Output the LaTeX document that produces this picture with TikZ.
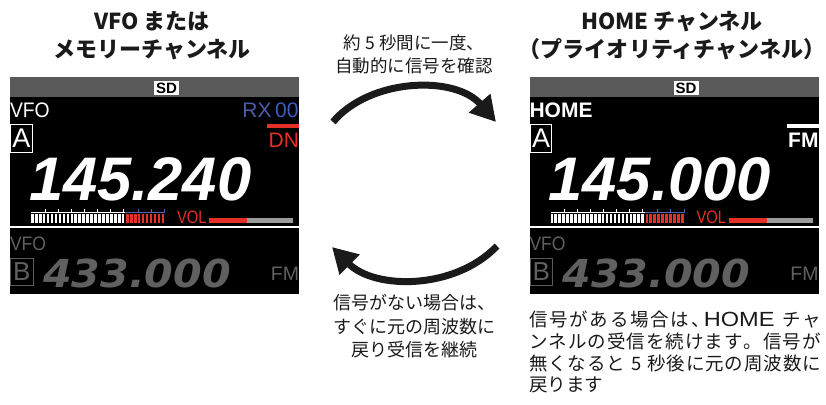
\documentclass[tikz,border=0pt]{standalone}
\usepackage{fontspec}
\setmainfont{Liberation Sans}
\newfontfamily\jp{Noto Sans CJK JP}
\newfontfamily\dvs{DejaVu Sans}
\usetikzlibrary{arrows.meta}
\definecolor{scrgrey}{HTML}{595959}
\definecolor{dimgrey}{HTML}{606060}
\definecolor{lcdred}{HTML}{E53027}
\definecolor{rxblue}{HTML}{4B5CA8}
\definecolor{zeroblue}{HTML}{3D5CC0}
\definecolor{volgrey}{HTML}{9A9A9A}
\definecolor{rulerblue}{HTML}{5065B5}
\definecolor{inkblack}{HTML}{1A1A1A}
\def\spreadchars#1{\spreadA#1\relax}
\def\spreadA#1{\ifx#1\relax\else#1\hskip 0pt plus 1fil\expandafter\spreadA\fi}
\newcommand\jline[1]{\hbox to 292pt{\spreadchars{#1}\unskip}}
\newcommand\HOMEw{{\rmfamily\fontsize{20.5}{20}\selectfont\scalebox{1.15}[1]{HOME}}}
\tikzset{
  txt/.style={inner sep=0pt, outer sep=0pt},
  bigarrow/.style={line width=7pt, inkblack, -{Triangle[length=25pt,width=27pt]}},
  jtext/.style={txt, text=inkblack, font=\jp\fontsize{18}{23.5}\selectfont, align=center},
  title/.style={txt, text=inkblack, font=\jp\bfseries\fontsize{22}{28}\selectfont, align=center},
}
\newcommand\drawscreen[4]{%
  % #1 top label, #2 label font, #3 freq, #4 right-hand items
  \fill[scrgrey] (0,77) rectangle (289,97);
  \fill[black] (0,97) rectangle (289,294);
  \fill[white] (144,81) rectangle (169,95);
  \node[txt, font=\bfseries\fontsize{15}{15}\selectfont] (sd) at (156.5,88.5) {SD};
  \node[txt, anchor=base west, text=white, font=#2] (lab) at (0,117) {#1};
  \draw[white, line width=0.8pt] (0.5,124.5) rectangle (22,152);
  \node[txt, text=white, font=\fontsize{27}{27}\selectfont] (chA) at (11.5,138.5) {A};
  #4
  \node[txt, anchor=base west, text depth=0pt, text=white, font=\bfseries\itshape\fontsize{61.5}{61.5}\selectfont] (freq) at (19,200) {#3};
  % ruler
  \draw[white, line width=0.8pt] (21,212) -- (115,212);
  \foreach \x in {35,48,61,74,87,100,113} \draw[white, line width=0.8pt] (\x,212) -- (\x,208.5);
  \draw[rulerblue, line width=0.8pt] (115,212) -- (155,212);
  \foreach \x in {128,141,154.5} \draw[rulerblue, line width=0.8pt] (\x,212) -- (\x,208.5);
  \foreach \i in {0,...,23} \fill[white] ({21+\i*3.95},214) rectangle ++(2.6,9);
  \foreach \i in {0,...,9} \fill[lcdred] ({116+\i*3.95},214) rectangle ++(2.6,9);
  \node[txt, anchor=base west, text=lcdred, font=\fontsize{18}{18}\selectfont] (vol) at (167,223) {\scalebox{0.82}[1]{VOL}};
  \fill[lcdred] (199,218) rectangle (237,223);
  \fill[volgrey] (237,218) rectangle (283,223);
  \draw[white, line width=1.5pt] (0,227) -- (289,227);
  \node[txt, anchor=base west, text=dimgrey, font=\fontsize{19.5}{19.5}\selectfont] (vfob) at (0,250) {\scalebox{0.9}[1]{VFO}};
  \draw[scrgrey, line width=1pt] (0.5,258) rectangle (23,285);
  \node[txt, text=dimgrey, font=\fontsize{26}{26}\selectfont] (chB) at (11.8,271.5) {B};
  \node[txt, anchor=base west, text depth=0pt, text=dimgrey, font=\dvs\bfseries\itshape\fontsize{38.5}{38.5}\selectfont] (freqb) at (33,287) {\scalebox{1.07}[1]{433.000}};
  \node[txt, anchor=base east, text=dimgrey, font=\fontsize{19.5}{19.5}\selectfont] (fmb) at (289,280) {FM};
}
\begin{document}
\begin{tikzpicture}[x=1pt,y=-1pt]
\useasboundingbox (0,0) rectangle (826,404);
% titles
\node[title] (ltitle) at (152,36) {VFO または\\メモリーチャンネル};
\node[title] (rtitle) at (672,36) {HOME チャンネル\\（プライオリティチャンネル）};
% left screen
\begin{scope}[shift={(10,0)}, name prefix=L-]
\drawscreen{\scalebox{0.92}[1]{VFO}}{\fontsize{21}{21}\selectfont}{145.240}{%
  \node[txt, anchor=base east, font=\fontsize{21}{21}\selectfont] (rx) at (288.5,117) {\textcolor{rxblue}{RX}\,\textcolor{zeroblue}{00}};
  \fill[lcdred] (257,124) rectangle (289,127.5);
  \node[txt, anchor=base east, text=lcdred, font=\fontsize{21}{21}\selectfont] (dn) at (289,147) {DN};
}
\end{scope}
% right screen
\begin{scope}[shift={(529.5,0)}, name prefix=R-]
\drawscreen{HOME}{\bfseries\fontsize{21}{21}\selectfont}{145.000}{%
  \fill[white] (257,124) rectangle (289,127.5);
  \node[txt, anchor=base east, text=white, font=\bfseries\fontsize{21}{21}\selectfont] (fm) at (289,147) {FM};
}
\end{scope}
% middle texts
\node[jtext, font=\jp\fontsize{17.5}{23}\selectfont] (topnote) at (414,54) {約 5 秒間に一度、\\自動的に信号を確認};
\node[jtext] (botnote) at (414,326.5) {信号がない場合は、\\すぐに元の周波数に\\戻り受信を継続};
% arrows
\coordinate (a1s) at (333,122);
\coordinate (a1e) at (496,122);
\coordinate (a2s) at (497,246);
\coordinate (a2e) at (332,247);
\draw[bigarrow] (a1s) .. controls (370,78) and (455,75) .. (a1e);
\draw[bigarrow] (a2s) .. controls (455,290) and (375,290) .. (a2e);
% right note
\node[txt, anchor=north west, text=inkblack, font=\jp\fontsize{18.5}{21.7}\selectfont, align=left] (rnote) at (529,311) {%
\hbox to 292pt{\spreadchars{信号がある場合は}\hbox to 9pt{、\hss}\hskip 2pt plus 1fil\HOMEw\hskip 6pt plus 1fil チ\hskip 0pt plus 1fil ャ}\\
\jline{ンネルの受信を続けます。信号が}\\
\jline{無くなると~5~秒後に元の周波数に}\\
戻ります};
\end{tikzpicture}
\end{document}
